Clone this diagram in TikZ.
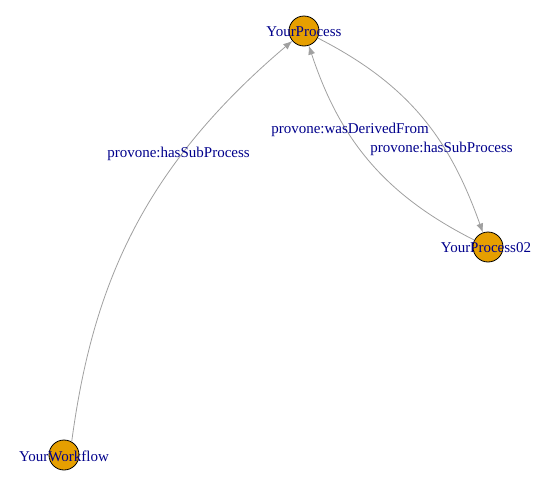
\documentclass[tikz,border=0pt]{standalone}
\usepackage{fontspec}
\setmainfont{Liberation Serif}
\usetikzlibrary{arrows.meta}
\definecolor{vfill}{HTML}{E69F00}
\definecolor{labblue}{RGB}{0,0,139}
\definecolor{edgegray}{RGB}{160,160,160}
\tikzset{
  vert/.style={circle, draw=black, fill=vfill, line width=0.8pt, minimum size=30pt, inner sep=0pt},
  vlabel/.style={text=labblue, font=\fontsize{15}{18}\selectfont, inner sep=0pt},
  elabel/.style={text=labblue, font=\fontsize{15}{18}\selectfont, inner sep=0pt},
  edge/.style={draw=edgegray, line width=0.8pt, -{Latex[length=9pt,width=7pt]}}
}
\begin{document}
\begin{tikzpicture}[x=1pt,y=-1pt]
\useasboundingbox (0,0) rectangle (550,490);
\node[vert] (p) at (304,31) {};
\node[vert] (p2) at (488,247) {};
\node[vert] (wf) at (64,455) {};
\draw[edge] (wf.60) .. controls (92,290) and (140,170) .. (p);
\draw[edge] (p) .. controls (410,85) and (450,140) .. (p2);
\draw[edge] (p2) .. controls (385,195) and (340,140) .. (p);
\node[vlabel] (pl) at (304,32) {YourProcess};
\node[vlabel] (p2l) at (486,248) {YourProcess02};
\node[vlabel] (wfl) at (64,456) {YourWorkflow};
\node[elabel] (e1) at (178.5,154) {provone:hasSubProcess};
\node[elabel] (e2) at (350,130) {provone:wasDerivedFrom};
\node[elabel] (e3) at (441.5,149) {provone:hasSubProcess};
\end{tikzpicture}
\end{document}
